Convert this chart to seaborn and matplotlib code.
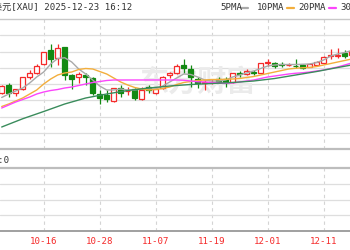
import numpy as np
import pandas as pd
import matplotlib
matplotlib.use("Agg")
import matplotlib.pyplot as plt
import matplotlib.transforms as mtransforms
from matplotlib.lines import Line2D
import seaborn as sns

# ---------------- data ----------------
title_text = "美元[XAU] 2025-12-23 16:12"
legend_names = ["5PMA", "10PMA", "20PMA", "30"]
tick_pos = [-2, 6, 14, 22, 30, 38, 46]
tick_labels = ["10-05", "10-16", "10-28", "11-07", "11-19", "12-01", "12-11"]
volume_label = "量:0"
watermark = "东方财富"

opens = [3958, 4020, 3958, 3986, 4086, 4114, 4186, 4300, 4234, 4322,
         4100, 4082, 4100, 4074, 3946, 3940, 3892, 3994, 3972, 3986,
         3906, 4006, 3958, 3994, 4100, 4114, 4180, 4146, 4066, 4034,
         4042, 4066, 4068, 4046, 4118, 4108, 4122, 4118, 4194, 4198,
         4188, 4178, 4174, 4180, 4166, 4180, 4194, 4252, 4252, 4274,
         4260]
closes = [4012, 3956, 3986, 4082, 4114, 4174, 4286, 4226, 4314, 4100,
          4068, 4106, 4086, 3958, 3918, 3908, 3994, 3954, 3976, 3914,
          3980, 3980, 3986, 4086, 4114, 4172, 4154, 4086, 4034, 4046,
          4047, 4046, 4044, 4114, 4106, 4134, 4118, 4194, 4206, 4172,
          4183, 4182, 4170, 4154, 4186, 4202, 4246, 4260, 4264, 4252,
          4294]
highs = [4020, 4036, 3992, 4084, 4140, 4188, 4288, 4348, 4348, 4326,
         4108, 4126, 4118, 4086, 3980, 3980, 3996, 4020, 4006, 3994,
         4006, 4020, 4006, 4092, 4126, 4188, 4226, 4180, 4086, 4060,
         4066, 4082, 4086, 4116, 4134, 4146, 4140, 4196, 4226, 4202,
         4206, 4194, 4226, 4188, 4194, 4214, 4250, 4306, 4314, 4300,
         4324]
lows = [3952, 3924, 3932, 3984, 4068, 4112, 4184, 4166, 4180, 4060,
        3986, 4034, 4020, 3940, 3868, 3884, 3884, 3926, 3940, 3900,
        3900, 3954, 3948, 3986, 4074, 4108, 4114, 4006, 3994, 3980,
        4028, 4038, 4006, 4036, 4086, 4100, 4100, 4116, 4172, 4154,
        4166, 4172, 4154, 4148, 4164, 4176, 4192, 4226, 4234, 4234,
        4252]

ma5 = [3920, 3948, 3972, 3996, 4036, 4084, 4124, 4188, 4232, 4238,
       4204, 4148, 4108, 4060, 4012, 3980, 3980, 3988, 3980, 3980,
       3988, 3988, 3988, 4012, 4044, 4076, 4108, 4104, 4084, 4060,
       4052, 4052, 4060, 4084, 4100, 4116, 4132, 4152, 4172, 4180,
       4184, 4184, 4184, 4186, 4188, 4200, 4220, 4252, 4268, 4280,
       4296]
ma10 = [3848, 3868, 3892, 3916, 3948, 3980, 4028, 4068, 4100, 4116,
        4124, 4144, 4152, 4148, 4128, 4108, 4076, 4044, 4020, 4000,
        3988, 3980, 3984, 3992, 4004, 4024, 4040, 4048, 4056, 4060,
        4064, 4064, 4066, 4068, 4072, 4080, 4088, 4100, 4112, 4124,
        4136, 4148, 4154, 4158, 4160, 4168, 4180, 4192, 4204, 4216,
        4228]
ma20 = [3836, 3860, 3884, 3904, 3924, 3948, 3964, 3976, 3984, 3996,
        4004, 4016, 4028, 4040, 4048, 4056, 4060, 4060, 4060, 4060,
        4060, 4060, 4060, 4060, 4060, 4060, 4058, 4052, 4046, 4044,
        4040, 4036, 4034, 4036, 4044, 4052, 4060, 4072, 4084, 4092,
        4100, 4108, 4114, 4118, 4124, 4132, 4140, 4152, 4164, 4180,
        4196]
ma30_idx = [0, 3, 6, 9, 12, 15, 18, 21, 24, 27, 30, 33, 36, 39, 42, 45, 48, 50]
ma30 = [3684, 3750, 3808, 3868, 3916, 3948, 3976, 3996, 4012, 4024,
        4032, 4040, 4052, 4072, 4100, 4128, 4160, 4180]

# ---------------- style ----------------
sns.set_style("white")
plt.rcParams["font.family"] = ["DejaVu Sans Mono", "Noto Sans CJK SC"]

RED = "#f52a2a"
GREEN = "#138a13"
MA_COLORS = ["#a9a9a9", "#f3ae3c", "#fb45fb", "#3a8c5c"]
GRID = "#dedede"
VGRID = "#d4d4d4"

W, H = 350, 250
def fy(py):
    return 1 - py / H

fig = plt.figure(figsize=(3.5, 2.5), dpi=100)
ax = fig.add_axes([0, fy(149), 1, 130 / H])
axv = fig.add_axes([0, fy(231), 1, 63 / H])

xlim = (-0.243, 49.757)
for a in (ax, axv):
    a.set_xlim(*xlim)
    a.set_xticks([])
    a.set_yticks([])
    for s in ("left", "right"):
        a.spines[s].set_visible(False)
    for p in tick_pos:
        a.axvline(p, color=VGRID, lw=0.8, ls=(0, (3, 3)), zorder=0)

# main panel
ax.set_ylim(3508, 4548)
for g in np.linspace(3508, 4548, 9)[1:-1]:
    ax.axhline(g, color=GRID, lw=0.9, zorder=0)
ax.spines["top"].set_color("#c8c8c8")
ax.spines["top"].set_linewidth(1.0)
ax.spines["bottom"].set_color("#bdbdbd")
ax.spines["bottom"].set_linewidth(1.6)

ax.text(28, 4044, watermark, fontsize=21, color="#ebebeb", fontweight="bold",
        family="Noto Sans CJK SC", ha="center", va="center", zorder=1)

idx = np.arange(len(opens))
for i, o, h, l, c in zip(idx, opens, highs, lows, closes):
    up = c >= o
    col = RED if up else GREEN
    ax.vlines(i, l, h, color=col, lw=0.9, zorder=3)
    ax.bar(i, abs(c - o), bottom=min(o, c), width=0.72,
           facecolor="white" if up else GREEN, edgecolor=col, lw=0.9, zorder=4)

df = pd.DataFrame({"i": idx, "ma5": ma5, "ma10": ma10, "ma20": ma20})
for key, colr in zip(["ma5", "ma10", "ma20"], MA_COLORS[:3]):
    sns.lineplot(data=df, x="i", y=key, ax=ax, color=colr, lw=1.0,
                 estimator=None, sort=False, legend=False, zorder=5)
sns.lineplot(x=ma30_idx, y=ma30, ax=ax, color=MA_COLORS[3], lw=1.0,
             estimator=None, sort=False, legend=False, zorder=5)
ax.set_xlabel("")
ax.set_ylabel("")
ax.set_xlim(*xlim)

# lower panel
axv.set_ylim(0, 4)
for g in [1, 2, 3]:
    axv.axhline(g, color=GRID, lw=0.9, zorder=0)
axv.spines["top"].set_color("#bdbdbd")
axv.spines["top"].set_linewidth(1.6)
axv.spines["bottom"].set_color("#a0a0a0")
axv.spines["bottom"].set_linewidth(1.4)

trans = mtransforms.blended_transform_factory(axv.transData, axv.transAxes)
for p, lab in zip(tick_pos, tick_labels):
    axv.text(p, -0.16, lab, transform=trans, ha="center", va="center",
             fontsize=6.6, color=RED, clip_on=False)

# header texts
fig.text(132 / W, fy(7.5), title_text, ha="right", va="center",
         fontsize=6.6, color="#333333")
fig.text(9.5 / W, fy(160), volume_label, ha="right", va="center",
         fontsize=6.6, color="#333333")

leg_text_x = [220, 257, 298, 340]
leg_line_x = [(241, 248), (287, 294), (329, 336)]
for x, name in zip(leg_text_x, legend_names):
    fig.text(x / W, fy(7.5), name, ha="left", va="center", fontsize=6.6,
             color="#333333")
for (x0, x1), colr in zip(leg_line_x, MA_COLORS[:3]):
    fig.add_artist(Line2D([x0 / W, x1 / W], [fy(7.5), fy(7.5)], color=colr,
                          lw=1.6))

fig.savefig("out.png", dpi=100)
